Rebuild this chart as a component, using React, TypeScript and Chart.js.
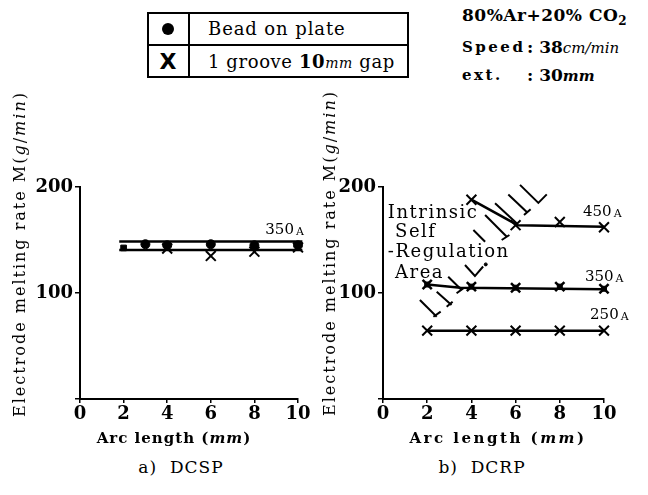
import React, { useEffect, useRef } from 'react';
import { Chart, registerables } from 'chart.js';

Chart.register(...registerables);

// ---------- axis ticks ----------
const xTicks = [0, 2, 4, 6, 8, 10];
const yTicks = [0, 100, 200];

// ---------- a) DCSP ----------
const dcspBeadX = [3, 4, 6, 8, 10];
const dcspBeadY = [146, 145, 146, 145, 145];
const dcspBeadStartX = [2];
const dcspBeadStartY = [142.5];
const dcspGrooveX = [4, 6, 8, 10];
const dcspGrooveY = [142, 135, 139, 143];
const dcspBeadFitX = [1.8, 10.2];
const dcspBeadFitY = [148.5, 148.5];
const dcspGrooveFitX = [1.8, 10.2];
const dcspGrooveFitY = [140.5, 140.5];

// ---------- b) DCRP ----------
const dcrp450X = [4, 6, 8, 10];
const dcrp450Y = [188, 164, 167, 162];
const dcrp450FitX = [4, 6.1, 10];
const dcrp450FitY = [188, 164, 162.5];
const dcrp350X = [2, 4, 6, 8, 10];
const dcrp350Y = [108, 106, 105, 106, 104];
const dcrp350FitX = [2, 3.5, 10];
const dcrp350FitY = [108, 105, 103.5];
const dcrp250X = [2, 4, 6, 8, 10];
const dcrp250Y = [64.5, 64.5, 64.5, 64.5, 64.5];

// boundary hatch of the intrinsic self-regulation area (data units)
const hatchMarks: number[][][] = [
  [[6.2, 202], [7.03, 185], [7.41, 193]],
  [[5.67, 193], [6.53, 176]],
  [[6.38, 173.6], [6.68, 179]],
  [[5.07, 184.6], [6.05, 165.8]],
  [[4.62, 173.6], [5.6, 153]],
  [[5.37, 150], [5.72, 154.7]],
  [[4.09, 159.4], [4.62, 148.4]],
  [[3.71, 126.4], [4.16, 116], [4.53, 125]],
  [[2.95, 115.4], [3.56, 102.8]],
  [[3.33, 99.7], [3.63, 104.4]],
  [[2.43, 101.2], [3.1, 88.7]],
  [[2.88, 87], [3.15, 91.8]],
  [[1.67, 93.4], [2.43, 77.6]],
  [[2.28, 77.6], [2.61, 82.4]],
];
const hatchDotX = [4.65];
const hatchDotY = [127];

// current labels
const leftCurrentLabels = [{ x: 8.5, y: 159, text: '350', sub: 'A' }];
const rightCurrentLabels = [
  { x: 9.05, y: 176, text: '450', sub: 'A' },
  { x: 9.14, y: 115, text: '350', sub: 'A' },
  { x: 9.37, y: 79, text: '250', sub: 'A' },
];
const areaLines = ['Intrinsic', ' Self', '-Regulation', ' Area'];
const areaLineY = [175.5, 157, 138, 118.5];

const SERIF = '"DejaVu Serif", "Liberation Serif", serif';

function pts(xs: number[], ys: number[]) {
  return xs.map((x, i) => ({ x, y: ys[i] }));
}

function lineDs(xs: number[], ys: number[], width = 2.5) {
  return {
    data: pts(xs, ys),
    showLine: true,
    pointRadius: 0,
    borderColor: '#000',
    borderWidth: width,
    fill: false,
    clip: false as any,
  };
}

function markDs(xs: number[], ys: number[], style: string, radius: number, bw: number) {
  return {
    data: pts(xs, ys),
    showLine: false,
    pointStyle: style,
    pointRadius: radius,
    borderColor: '#000',
    backgroundColor: '#000',
    pointBorderWidth: bw,
    clip: false as any,
  };
}

const annoPlugin = {
  id: 'annoText',
  afterDatasetsDraw(chart: any, _args: any, opts: any) {
    const { ctx } = chart;
    const xs = chart.scales.x;
    const ys = chart.scales.y;
    ctx.save();
    ctx.fillStyle = '#000';
    ctx.textBaseline = 'middle';
    ctx.textAlign = 'left';
    for (const it of opts.currents || []) {
      const px = xs.getPixelForValue(it.x);
      const py = ys.getPixelForValue(it.y);
      ctx.font = `15px ${SERIF}`;
      (ctx as any).letterSpacing = '0px';
      ctx.fillText(it.text, px, py);
      const w = ctx.measureText(it.text).width;
      ctx.font = `11px ${SERIF}`;
      ctx.fillText(it.sub, px + w + 2, py + 2);
    }
    if (opts.area) {
      ctx.font = `18px ${SERIF}`;
      (ctx as any).letterSpacing = '1.5px';
      areaLines.forEach((t, i) => {
        ctx.fillText(t, xs.getPixelForValue(0.22), ys.getPixelForValue(areaLineY[i]));
      });
    }
    ctx.restore();
  },
};

function scalesCfg(yWidth: number) {
  const tickFont = { family: SERIF, size: 18, weight: 'bold' as const };
  return {
    x: {
      type: 'linear' as const,
      min: 0,
      max: 10,
      afterBuildTicks: (s: any) => {
        s.ticks = xTicks.map((v) => ({ value: v }));
      },
      ticks: { font: tickFont, color: '#000', padding: 1, maxRotation: 0, autoSkip: false },
      grid: { drawOnChartArea: false, color: '#000', lineWidth: 1.5, tickLength: 4 },
      border: { color: '#000', width: 2 },
      afterFit: (s: any) => {
        s.height = 51;
      },
    },
    y: {
      type: 'linear' as const,
      min: 0,
      max: 200,
      afterBuildTicks: (s: any) => {
        s.ticks = yTicks.map((v) => ({ value: v }));
      },
      ticks: {
        font: tickFont,
        color: '#000',
        padding: 2,
        callback: (v: any) => (v === 0 ? '' : String(v)),
      },
      grid: { drawOnChartArea: false, color: '#000', lineWidth: 1.5, tickLength: 5 },
      border: { color: '#000', width: 2 },
      afterFit: (s: any) => {
        s.width = yWidth;
      },
    },
  };
}

function Panel({ which }: { which: 'a' | 'b' }) {
  const ref = useRef<HTMLCanvasElement | null>(null);
  useEffect(() => {
    if (!ref.current) return;
    let datasets: any[];
    let padding: any;
    let yWidth: number;
    let annoOpts: any;
    if (which === 'a') {
      datasets = [
        lineDs(dcspBeadFitX, dcspBeadFitY),
        lineDs(dcspGrooveFitX, dcspGrooveFitY),
        markDs(dcspBeadX, dcspBeadY, 'circle', 4.5, 1),
        markDs(dcspBeadStartX, dcspBeadStartY, 'rect', 4, 1),
        markDs(dcspGrooveX, dcspGrooveY, 'crossRot', 7, 2),
      ];
      padding = { top: 37, right: 22, left: 0, bottom: 0 };
      yWidth = 80;
      annoOpts = { currents: leftCurrentLabels, area: false };
    } else {
      datasets = [
        lineDs(dcrp450FitX, dcrp450FitY),
        lineDs(dcrp350FitX, dcrp350FitY),
        lineDs(dcrp250X, dcrp250Y),
        markDs(dcrp450X, dcrp450Y, 'crossRot', 7, 2),
        markDs(dcrp350X, dcrp350Y, 'crossRot', 6.5, 2.5),
        markDs(dcrp350X, dcrp350Y, 'rect', 3.5, 1),
        markDs(dcrp250X, dcrp250Y, 'crossRot', 7, 2),
        markDs(hatchDotX, hatchDotY, 'circle', 1.5, 1),
        ...hatchMarks.map((m) =>
          lineDs(
            m.map((p) => p[0]),
            m.map((p) => p[1]),
            2
          )
        ),
      ];
      padding = { top: 37, right: 44, left: 0, bottom: 0 };
      yWidth = 63;
      annoOpts = { currents: rightCurrentLabels, area: true };
    }
    const chart = new Chart(ref.current, {
      type: 'scatter',
      data: { datasets },
      options: {
        responsive: false,
        animation: false,
        devicePixelRatio: 1,
        layout: { padding },
        scales: scalesCfg(yWidth) as any,
        plugins: {
          legend: { display: false },
          tooltip: { enabled: false },
          annoText: annoOpts,
        } as any,
      },
      plugins: [annoPlugin as any],
    });
    return () => chart.destroy();
  }, [which]);
  const left = which === 'a' ? 0 : 320;
  const width = which === 'a' ? 320 : 328;
  return (
    <canvas
      ref={ref}
      width={width}
      height={300}
      style={{ position: 'absolute', left, top: 150, width, height: 300 }}
    />
  );
}

const abs = (o: any): React.CSSProperties => ({ position: 'absolute', whiteSpace: 'nowrap', ...o });

function YTitle({ cx, cy }: { cx: number; cy: number }) {
  return (
    <div
      style={abs({
        left: cx,
        top: cy,
        transform: 'translate(-50%, -50%) rotate(-90deg)',
        fontFamily: SERIF,
        fontSize: 16,
        letterSpacing: '2px',
        lineHeight: '18px',
      })}
    >
      Electrode melting rate M(<i>g</i>/<i>min</i>)
    </div>
  );
}

export default function App() {
  const serifText: React.CSSProperties = { fontFamily: SERIF, color: '#000' };
  return (
    <div style={abs({ left: 0, top: 0, width: 648, height: 495, background: '#fff', overflow: 'hidden', ...serifText })}>
      {/* legend table */}
      <div style={abs({ left: 147, top: 12, width: 262, height: 66, border: '2.5px solid #000', boxSizing: 'border-box' })} />
      <div style={abs({ left: 147, top: 44, width: 262, height: 2, background: '#000' })} />
      <div style={abs({ left: 188, top: 12, width: 2, height: 66, background: '#000' })} />
      <div style={abs({ left: 162, top: 23, width: 12, height: 12, borderRadius: '50%', background: '#000' })} />
      <div style={abs({ left: 168, top: 62, transform: 'translate(-50%, -50%)', fontFamily: '"DejaVu Sans", sans-serif', fontWeight: 'bold', fontSize: 22, lineHeight: '22px' })}>X</div>
      <div style={abs({ left: 208, top: 29, transform: 'translateY(-50%)', fontSize: 18, letterSpacing: '0.9px', lineHeight: '20px' })}>Bead on plate</div>
      <div style={abs({ left: 208, top: 62, transform: 'translateY(-50%)', fontSize: 18, letterSpacing: '0.6px', lineHeight: '20px' })}>
        1 groove <b>10</b><i style={{ fontSize: 14 }}>mm</i> gap
      </div>

      {/* conditions */}
      <div style={abs({ left: 462, top: 18, transform: 'translateY(-50%)', fontSize: 17, fontWeight: 'bold', letterSpacing: '0.5px', lineHeight: '20px' })}>
        80%Ar+20% CO<sub style={{ fontSize: 12 }}>2</sub>
      </div>
      <div style={abs({ left: 462, top: 47, transform: 'translateY(-50%)', fontSize: 15, fontWeight: 'bold', letterSpacing: '2.5px', lineHeight: '20px' })}>Speed</div>
      <div style={abs({ left: 527, top: 47, transform: 'translateY(-50%)', fontSize: 17, fontWeight: 'bold', lineHeight: '20px' })}>
        : 38<i style={{ fontWeight: 'normal', fontSize: 15 }}>cm/min</i>
      </div>
      <div style={abs({ left: 462, top: 75, transform: 'translateY(-50%)', fontSize: 15, fontWeight: 'bold', letterSpacing: '2.5px', lineHeight: '20px' })}>ext.</div>
      <div style={abs({ left: 527, top: 75, transform: 'translateY(-50%)', fontSize: 17, fontWeight: 'bold', lineHeight: '20px' })}>
        : 30<i style={{ fontSize: 15 }}>mm</i>
      </div>

      <Panel which="a" />
      <Panel which="b" />

      <YTitle cx={20} cy={254} />
      <YTitle cx={330} cy={253} />

      <div style={abs({ left: 174, top: 438, transform: 'translate(-50%, -50%)', fontSize: 15, fontWeight: 'bold', letterSpacing: '1px', lineHeight: '18px' })}>
        Arc length (<i>mm</i>)
      </div>
      <div style={abs({ left: 498, top: 438, transform: 'translate(-50%, -50%)', fontSize: 15, fontWeight: 'bold', letterSpacing: '2.5px', lineHeight: '18px' })}>
        Arc length (<i>mm</i>)
      </div>

      <div style={abs({ left: 181, top: 467, transform: 'translate(-50%, -50%)', fontSize: 17, letterSpacing: '1px', lineHeight: '20px' })}>a)&nbsp; DCSP</div>
      <div style={abs({ left: 482, top: 467, transform: 'translate(-50%, -50%)', fontSize: 17, letterSpacing: '1px', lineHeight: '20px' })}>b)&nbsp; DCRP</div>
    </div>
  );
}
